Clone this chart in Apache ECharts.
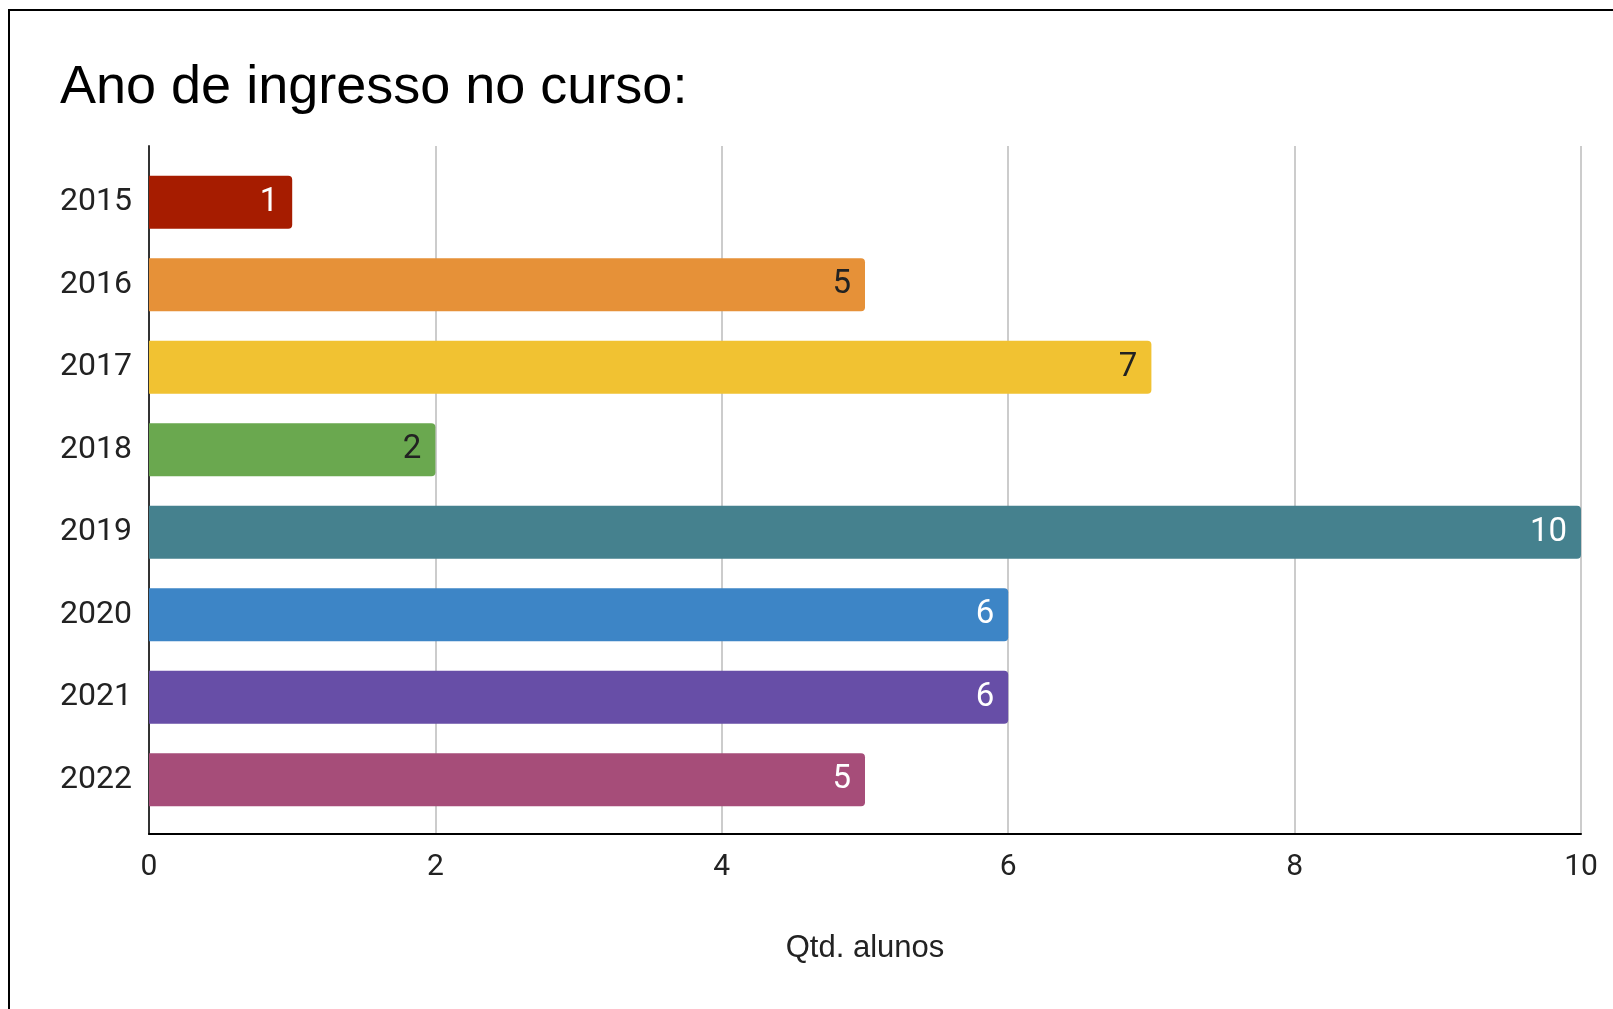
<!DOCTYPE html>
<html>
<head>
<meta charset="utf-8">
<script src="https://cdn.jsdelivr.net/npm/echarts@6/dist/echarts.min.js"></script>
<style>
  html, body { margin: 0; padding: 0; background: #fff; }
  #chart { width: 1613px; height: 1009px; }
</style>
</head>
<body>
<div id="chart"></div>
<script>
'use strict'
// dados
const years = ['2015', '2016', '2017', '2018', '2019', '2020', '2021', '2022'];
const alunos = [1, 5, 7, 2, 10, 6, 6, 5];
const xTicks = [0, 2, 4, 6, 8, 10];

// cores das barras (paleta do Sheets) e cor do rótulo de cada barra
const palette = ['#a61c00', '#e69138', '#f1c232', '#6aa84f', '#45818e', '#3d85c6', '#674ea7', '#a64d79'];
const labelColors = ['#fff', '#222', '#222', '#222', '#fff', '#fff', '#fff', '#fff'];

const sans = '"Liberation Sans", Arial, sans-serif';
const roboto = 'Roboto, "Noto Sans", sans-serif';

let myChart = echarts.init(document.getElementById('chart'));

let option = {
  animation: false,
  title: {
    text: 'Ano de ingresso no curso:',
    left: 60,
    top: 61,
    padding: 0,
    textStyle: {
      fontFamily: sans,
      fontSize: 54,
      fontWeight: 'normal',
      color: '#000'
    }
  },
  graphic: [{
    type: 'rect',
    shape: { x: 9, y: 10, width: 1700, height: 1100 },
    style: { fill: 'none', stroke: '#000', lineWidth: 2 },
    silent: true
  }],
  grid: [
    // moldura: linhas de grade e eixos
    { left: 149, right: 32, top: 146, bottom: 175 },
    // barras
    { left: 149, right: 32, top: 161, bottom: 188 }
  ],
  xAxis: [{
    gridIndex: 0,
    type: 'value',
    min: xTicks[0],
    max: xTicks[xTicks.length - 1],
    interval: 2,
    name: 'Qtd. alunos',
    nameLocation: 'middle',
    nameGap: 99,
    nameTextStyle: { fontFamily: sans, fontSize: 31, color: '#222' },
    axisLine: { show: true, onZero: false, lineStyle: { color: '#000', width: 2 } },
    axisTick: { show: false },
    axisLabel: { fontFamily: roboto, fontSize: 30, color: '#222', margin: 18 },
    splitLine: { show: true, lineStyle: { color: '#ccc', width: 2 } }
  }, {
    gridIndex: 1,
    type: 'value',
    min: xTicks[0],
    max: xTicks[xTicks.length - 1],
    show: false
  }],
  yAxis: [{
    gridIndex: 0,
    type: 'value',
    min: 0,
    max: 1,
    axisLine: { show: true, onZero: false, lineStyle: { color: '#333', width: 2 } },
    axisTick: { show: false },
    axisLabel: { show: false },
    splitLine: { show: false }
  }, {
    gridIndex: 1,
    type: 'category',
    data: years,
    inverse: true,
    axisLine: { show: false },
    axisTick: { show: false },
    axisLabel: { fontFamily: roboto, fontSize: 32, color: '#222', margin: 17, padding: [6, 0, 0, 0] },
    splitLine: { show: false }
  }],
  series: [{
    type: 'bar',
    xAxisIndex: 1,
    yAxisIndex: 1,
    barCategoryGap: '36%',
    data: alunos.map((v, k) => ({
      value: v,
      itemStyle: { color: palette[k], borderRadius: [0, 4, 4, 0] },
      label: { color: labelColors[k] }
    })),
    label: {
      show: true,
      position: 'insideRight',
      distance: 14,
      padding: [4, 0, 0, 0],
      fontFamily: roboto,
      fontSize: 33
    }
  }]
};

myChart.setOption(option);
</script>
</body>
</html>
